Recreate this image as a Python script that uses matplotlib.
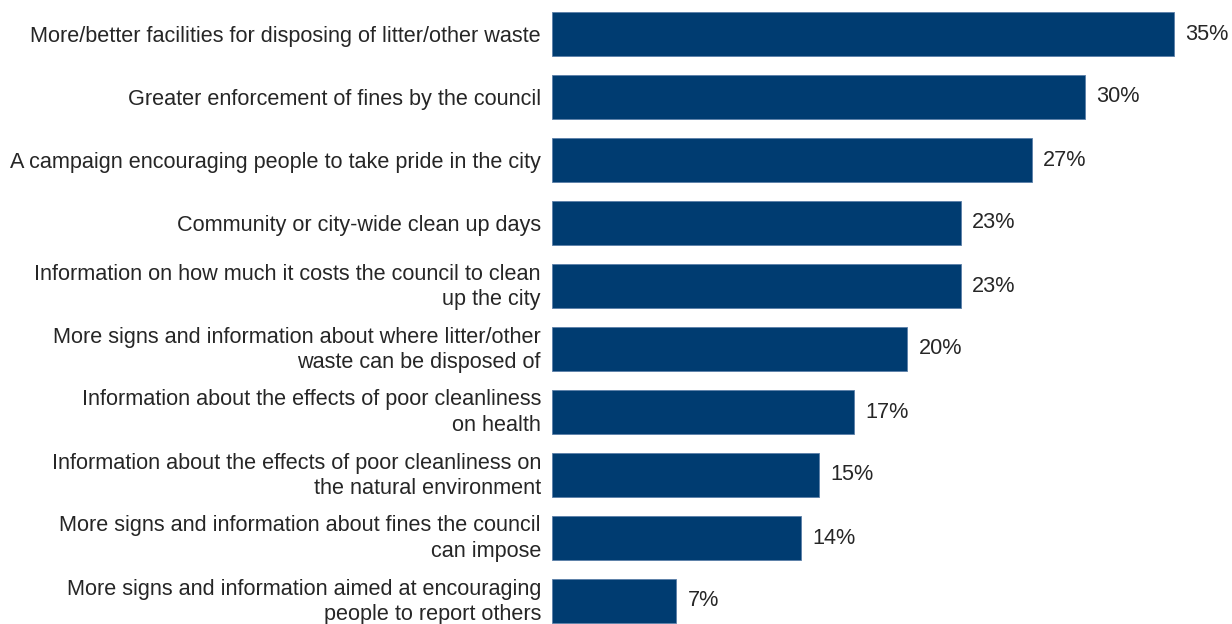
import matplotlib
matplotlib.use("Agg")
import matplotlib.pyplot as plt
from matplotlib.transforms import ScaledTranslation

labels = [
    "More/better facilities for disposing of litter/other waste",
    "Greater enforcement of fines by the council",
    "A campaign encouraging people to take pride in the city",
    "Community or city-wide clean up days",
    "Information on how much it costs the council to clean\nup the city",
    "More signs and information about where litter/other\nwaste can be disposed of",
    "Information about the effects of poor cleanliness\non health",
    "Information about the effects of poor cleanliness on\nthe natural environment",
    "More signs and information about fines the council\ncan impose",
    "More signs and information aimed at encouraging\npeople to report others",
]
values = [35, 30, 27, 23, 23, 20, 17, 15, 14, 7]

bar_color = "#003C71"
text_color = "#262626"
plt.rcParams["font.family"] = ["Liberation Sans", "DejaVu Sans"]
fs = 15.6

W, H = 1232, 624
fig = plt.figure(figsize=(W / 100, H / 100), dpi=100)
ax = fig.add_axes([552 / W, 0, 1 - 552 / W, 1])

pos = list(range(len(values)))
ax.barh(pos, values, height=0.7, color=bar_color, edgecolor="#5a7fa8", linewidth=0.6)

# 35% -> 622 px of 680 px axes width
ax.set_xlim(0, 35 * 680 / 622)
ax.set_ylim(9 + 23 / 63, -34 / 63)

for p, v in zip(pos, values):
    ax.annotate(f"{v}%", (v, p), xytext=(8.2, 0), textcoords="offset points",
                ha="left", va="center", fontsize=fs, color=text_color)

ax.set_yticks(pos)
ax.set_yticklabels(labels, fontsize=fs, color=text_color, linespacing=1.27)
ax.tick_params(axis="y", length=0, pad=8)
# nudge the two-line labels up a few px, as in the original
shift = ScaledTranslation(0, 0.04, fig.dpi_scale_trans)
for lbl in ax.get_yticklabels():
    if "\n" in lbl.get_text():
        lbl.set_transform(lbl.get_transform() + shift)
ax.set_xticks([])
for s in ax.spines.values():
    s.set_visible(False)

fig.savefig("out.png", dpi=100)
